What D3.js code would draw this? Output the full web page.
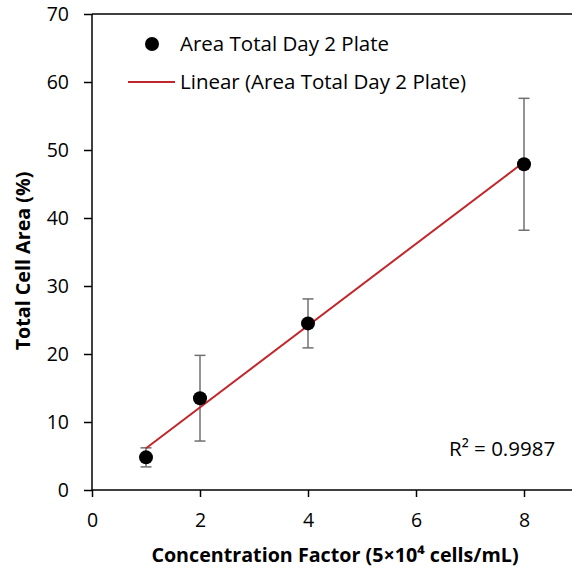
<!DOCTYPE html>
<html><head><meta charset="utf-8">
<script src="https://cdn.jsdelivr.net/npm/d3@7"></script>
<style>body{margin:0;background:#fff}svg{display:block}text{font-family:"Open Sans",sans-serif}</style>
</head><body>
<script>
const concentration = [1, 2, 4, 8];
const areaTotal = [4.8, 13.5, 24.5, 47.9];
const errorAmount = [1.4, 6.3, 3.6, 9.7];
const xTicks = [0, 2, 4, 6, 8];
const yTicks = [0, 10, 20, 30, 40, 50, 60, 70];
const seriesName = "Area Total Day 2 Plate";
const trendName = "Linear (Area Total Day 2 Plate)";
const r2Label = "R² = 0.9987";

const W = 572, H = 569;
const svg = d3.select("body").append("svg").attr("width", W).attr("height", H);
const x = d3.scaleLinear().domain([0, 9]).range([92, 578]);
const y = d3.scaleLinear().domain([0, 70]).range([490, 14]);

// plot frame (top border)
svg.append("line").attr("x1", 92).attr("x2", W).attr("y1", y(70)).attr("y2", y(70))
  .attr("stroke", "#000").attr("stroke-width", 1.5);

const yAxis = svg.append("g").attr("transform", "translate(92,0)")
  .call(d3.axisLeft(y).tickValues(yTicks).tickSize(8).tickPadding(15));
const xAxis = svg.append("g").attr("transform", `translate(0,${y(0)})`)
  .call(d3.axisBottom(x).tickValues(xTicks).tickSize(7).tickPadding(16));
[yAxis, xAxis].forEach(g => {
  g.select(".domain").attr("stroke", "#000").attr("stroke-width", 1.5);
  g.selectAll(".tick line").attr("stroke", "#000").attr("stroke-width", 1.5);
  g.selectAll(".tick text").attr("font-size", 19.5).attr("fill", "#000").attr("font-family", '"Open Sans",sans-serif');
});
xAxis.select(".domain").attr("d", `M92,0H${W}`);
yAxis.select(".domain").attr("d", `M0,${y(0)}V${y(70)}`);

// error bars
const eb = svg.append("g").attr("stroke", "#707070").attr("stroke-width", 1.5);
concentration.forEach((c, i) => {
  const hi = y(areaTotal[i] + errorAmount[i]), lo = y(areaTotal[i] - errorAmount[i]);
  eb.append("line").attr("x1", x(c)).attr("x2", x(c)).attr("y1", hi).attr("y2", lo);
  eb.append("line").attr("x1", x(c) - 5.5).attr("x2", x(c) + 5.5).attr("y1", hi).attr("y2", hi);
  eb.append("line").attr("x1", x(c) - 5.5).attr("x2", x(c) + 5.5).attr("y1", lo).attr("y2", lo);
});

// linear trend (least squares)
const mx = d3.mean(concentration), my = d3.mean(areaTotal);
const sxy = d3.sum(concentration, (c, i) => (c - mx) * (areaTotal[i] - my));
const sxx = d3.sum(concentration, c => (c - mx) ** 2);
const slope = sxy / sxx, intercept = my - slope * mx;
const x0 = d3.min(concentration), x1 = d3.max(concentration);
svg.append("line").attr("x1", x(x0)).attr("y1", y(intercept + slope * x0))
  .attr("x2", x(x1)).attr("y2", y(intercept + slope * x1))
  .attr("stroke", "#C0272D").attr("stroke-width", 2);

// points
svg.append("g").selectAll("circle").data(concentration).join("circle")
  .attr("cx", d => x(d)).attr("cy", (d, i) => y(areaTotal[i])).attr("r", 7).attr("fill", "#000");

// legend
svg.append("circle").attr("cx", 152).attr("cy", 44).attr("r", 7).attr("fill", "#000");
svg.append("text").attr("x", 180).attr("y", 51).attr("font-size", 20.5).text(seriesName);
svg.append("line").attr("x1", 128).attr("x2", 175).attr("y1", 82).attr("y2", 82)
  .attr("stroke", "#C0272D").attr("stroke-width", 2);
svg.append("text").attr("x", 180).attr("y", 89).attr("font-size", 20.5).text(trendName);

// R^2
svg.append("text").attr("x", 449).attr("y", 456).attr("font-size", 20.5).text(r2Label);

// axis titles
svg.append("text").attr("x", 335).attr("y", 562).attr("text-anchor", "middle")
  .attr("font-size", 19.7).attr("font-weight", "bold").text("Concentration Factor (5×10⁴ cells/mL)");
svg.append("text").attr("transform", "translate(30,261) rotate(-90)").attr("text-anchor", "middle")
  .attr("font-size", 19.7).attr("font-weight", "bold").text("Total Cell Area (%)");
</script>
</body></html>
